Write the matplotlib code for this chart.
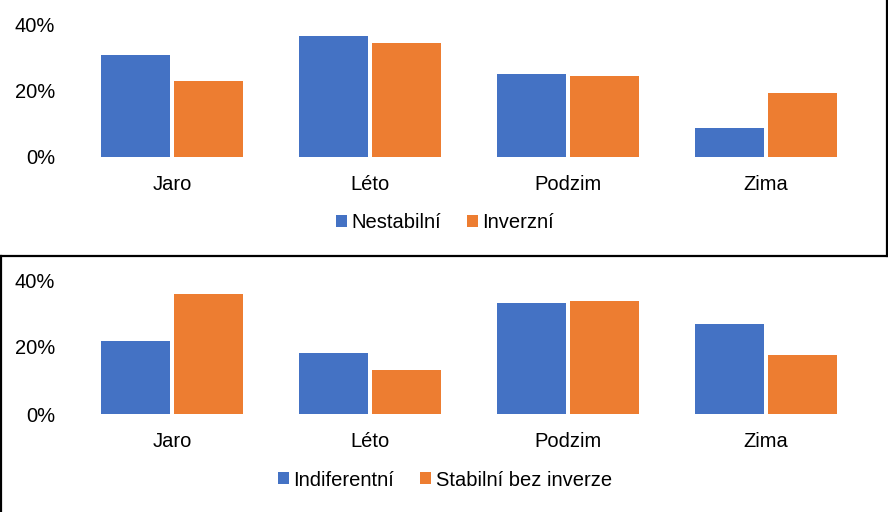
import numpy as np
import matplotlib
matplotlib.use("Agg")
import matplotlib.pyplot as plt
from matplotlib.lines import Line2D
from matplotlib.ticker import PercentFormatter

plt.rcParams['font.family'] = ['Liberation Sans', 'DejaVu Sans']

seasons = ['Jaro', 'Léto', 'Podzim', 'Zima']

# top chart
nestabilni = [0.307, 0.364, 0.250, 0.087]
inverzni = [0.229, 0.343, 0.244, 0.192]

# bottom chart
indiferentni = [0.219, 0.183, 0.332, 0.269]
stabilni = [0.359, 0.132, 0.338, 0.177]

blue = '#4472C4'
orange = '#ED7D31'
fs = 14.5

W, H = 888, 512
fig = plt.figure(figsize=(W / 100, H / 100), dpi=100)


def px_axes(left, right, base, top):
    return fig.add_axes([left / W, 1 - base / H, (right - left) / W, (base - top) / H])


def draw(ax, s1, s2, name1, name2, legend_y):
    x = np.arange(len(seasons))
    b1 = ax.bar(x - 0.184, s1, width=0.35, color=blue, label=name1)
    b2 = ax.bar(x + 0.184, s2, width=0.35, color=orange, label=name2)
    ax.set_xlim(-0.5, len(seasons) - 0.5)
    ax.set_ylim(0, 0.4)
    ax.set_yticks([0, 0.2, 0.4])
    ax.yaxis.set_major_formatter(PercentFormatter(1.0, decimals=0))
    ax.set_xticks(x)
    ax.set_xticklabels(seasons)
    for sp in ax.spines.values():
        sp.set_visible(False)
    ax.tick_params(axis='both', length=0, labelsize=fs, colors='black')
    ax.tick_params(axis='y', pad=13)
    ax.tick_params(axis='x', pad=13)
    fig.legend(handles=[b1, b2], loc='center', bbox_to_anchor=(445 / W, 1 - legend_y / H),
               ncol=2, frameon=False, fontsize=fs, handlelength=0.55, handleheight=0.55,
               handletextpad=0.2, columnspacing=1.3)


ax1 = px_axes(73, 865, 157, 24)
draw(ax1, nestabilni, inverzni, 'Nestabilní', 'Inverzní', 223)

ax2 = px_axes(73, 865, 414, 280)
draw(ax2, indiferentni, stabilni, 'Indiferentní', 'Stabilní bez inverze', 480)

# chart frames
lw = 1.6
fig.add_artist(Line2D([0, 886.5 / W], [1 - 255.5 / H, 1 - 255.5 / H], color='black', lw=lw))
fig.add_artist(Line2D([886.5 / W, 886.5 / W], [1, 1 - 255.5 / H], color='black', lw=lw))
fig.add_artist(Line2D([0.8 / W, 0.8 / W], [1 - 255.5 / H, 0], color='black', lw=lw))

fig.savefig('out.png', dpi=100)
